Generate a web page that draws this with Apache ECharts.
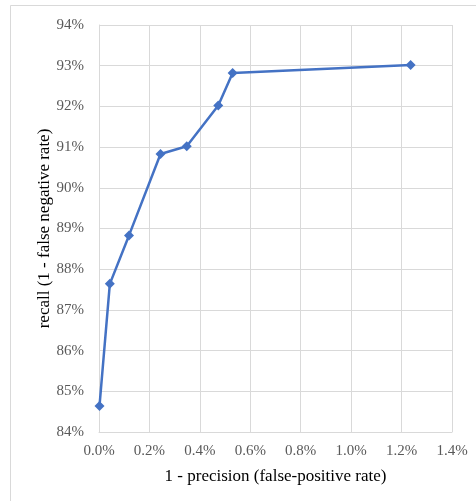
<!DOCTYPE html>
<html><head><meta charset="utf-8">
<script src="https://cdn.jsdelivr.net/npm/echarts@6/dist/echarts.min.js"></script>
<style>html,body{margin:0;padding:0;background:#fff}#c{width:476px;height:501px}</style>
</head><body><div id="c"></div>
<script>
const fpRate = [0.002, 0.043, 0.119, 0.244, 0.348, 0.473, 0.530, 1.236];
const recall = [84.64, 87.64, 88.83, 90.83, 91.02, 92.02, 92.82, 93.02];
const xTitle = '1 - precision (false-positive rate)';
const yTitle = 'recall (1 - false negative rate)';
const font = '"Liberation Serif", "Times New Roman", serif';
const chart = echarts.init(document.getElementById('c'), null, {renderer: 'canvas'});
chart.setOption({
  animation: false,
  backgroundColor: '#fff',
  graphic: [{type: 'rect', shape: {x: 10.5, y: 5.5, width: 480, height: 510}, style: {fill: 'none', stroke: '#d9d9d9', lineWidth: 1}}],
  grid: {left: 99, right: 24, top: 25, bottom: 69, containLabel: false},
  xAxis: {
    type: 'value', min: 0, max: 1.4, interval: 0.2,
    name: xTitle, nameLocation: 'middle', nameGap: 36, nameMoveOverlap: false,
    nameTextStyle: {fontFamily: font, fontSize: 17, color: '#000'},
    axisLine: {show: true, lineStyle: {color: '#d9d9d9', width: 1}},
    axisTick: {show: false},
    splitLine: {show: true, lineStyle: {color: '#d9d9d9', width: 1}},
    axisLabel: {fontFamily: font, fontSize: 15, color: '#595959', margin: 12, formatter: v => v.toFixed(1) + '%'}
  },
  yAxis: {
    type: 'value', min: 84, max: 94, interval: 1,
    name: yTitle, nameLocation: 'middle', nameGap: 46, nameRotate: 90, nameMoveOverlap: false,
    nameTextStyle: {fontFamily: font, fontSize: 17, color: '#000'},
    axisLine: {show: true, lineStyle: {color: '#d9d9d9', width: 1}},
    axisTick: {show: false},
    splitLine: {show: true, lineStyle: {color: '#d9d9d9', width: 1}},
    axisLabel: {fontFamily: font, fontSize: 15, color: '#595959', margin: 15, formatter: v => v + '%'}
  },
  series: [{
    type: 'line',
    data: fpRate.map((x, i) => [x, recall[i]]),
    symbol: 'diamond', symbolSize: 10,
    lineStyle: {color: '#4472c4', width: 2.5},
    itemStyle: {color: '#4472c4'}
  }]
});
</script></body></html>
